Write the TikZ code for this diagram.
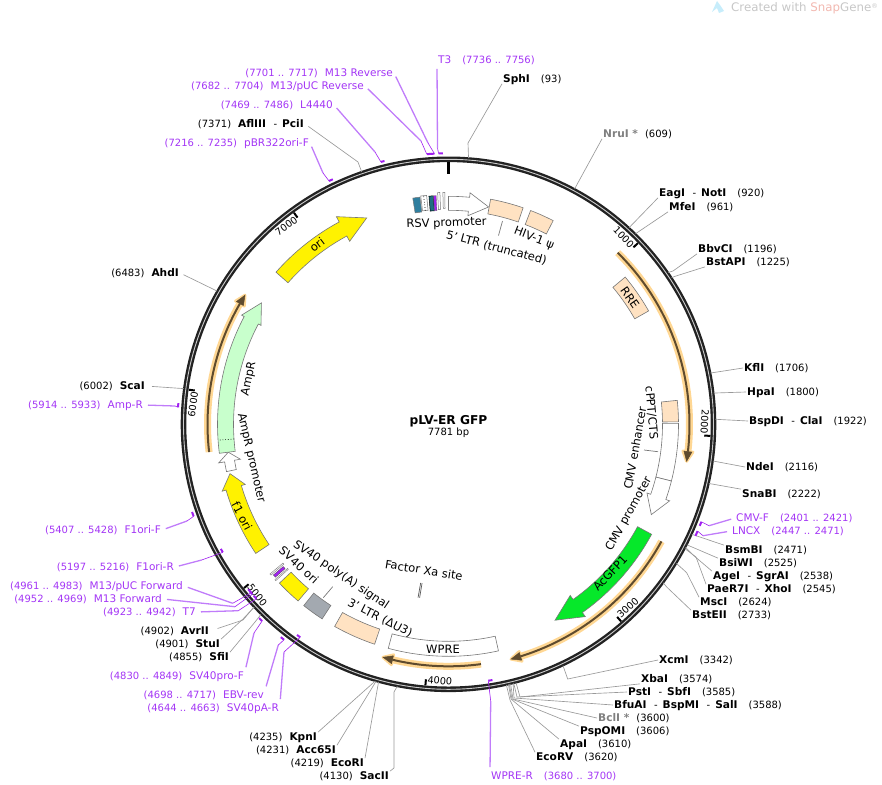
\documentclass[tikz,border=0pt]{standalone}
\usepackage{fontspec}
\setmainfont{DejaVu Sans}
\definecolor{prim}{HTML}{A335F5}
\definecolor{primlight}{HTML}{C07CFA}
\definecolor{primdark}{HTML}{A020F0}
\definecolor{peach}{HTML}{FFE2C2}
\definecolor{edgegray}{HTML}{777777}
\definecolor{leadgray}{HTML}{999999}
\definecolor{ringdark}{HTML}{222222}
\definecolor{glowc}{HTML}{FFD793}
\definecolor{corec}{HTML}{5F4B2E}
\definecolor{paleg}{HTML}{C8FFCC}
\definecolor{grayfeat}{HTML}{A3A9B0}
\definecolor{teal1}{HTML}{2F7F9F}
\definecolor{teal2}{HTML}{1F6F7F}
\definecolor{gfpgreen}{HTML}{06E82A}
\tikzset{
  declare function={rx(\bb,\rr)=448.5+\rr*sin(0.046267*\bb); ry(\bb,\rr)=424.3-\rr*cos(0.046267*\bb);},
  lab/.style={inner sep=1pt,text height=7.3pt,text depth=0pt,font=\fontsize{10}{12}\selectfont},
  plab/.style={lab,text=prim},
  feat/.style={inner sep=0pt,font=\fontsize{11.5}{13}\selectfont},
  featline/.style={draw=edgegray,line width=0.7pt},
  leadline/.style={draw=leadgray,line width=0.65pt},
  primthin/.style={draw=primdark,line width=0.6pt},
  primthick/.style={draw=primlight,line width=1.3pt,shorten <=4pt},
  primtick/.style={draw=primdark,line width=2pt},
  ticklab/.style={inner sep=1.5pt,text height=7.3pt,text depth=0pt,font=\fontsize{9.7}{12}\selectfont},
  glow/.style={draw=glowc,line width=7pt},
  glowhead/.style={draw=glowc,fill=glowc,line width=3pt,line join=round},
  core/.style={draw=corec,line width=2pt},
  corehead/.style={draw=corec,fill=corec,line width=0.5pt},
}
% band between bp1 and bp2, radii r1 and r2
\newcommand\bandbox[5]{\draw[#1] plot[domain=#2:#3,samples=30] ({rx(\x,#4)},{ry(\x,#4)}) -- plot[domain=#3:#2,samples=30] ({rx(\x,#5)},{ry(\x,#5)}) -- cycle;}
% arrow: style, tail, base, tip, centre radius, half width, head half width
\newcommand\arrowband[7]{\draw[#1] plot[domain=#2:#3,samples=30] ({rx(\x,#5+#6)},{ry(\x,#5+#6)}) -- ({rx(#3,#5+#7)},{ry(#3,#5+#7)}) -- ({rx(#4,#5)},{ry(#4,#5)}) -- ({rx(#3,#5-#7)},{ry(#3,#5-#7)}) -- plot[domain=#3:#2,samples=30] ({rx(\x,#5-#6)},{ry(\x,#5-#6)}) -- cycle;}
% tan highlighted arrow: tail, base, tip, radius
\newcommand\glowarr[4]{%
  \draw[glow] plot[domain=#1:#2,samples=30] ({rx(\x,#4)},{ry(\x,#4)});
  \draw[glowhead] ({rx(#2,#4+5)},{ry(#2,#4+5)}) -- ({rx(#3,#4)},{ry(#3,#4)}) -- ({rx(#2,#4-5)},{ry(#2,#4-5)}) -- cycle;
  \draw[core] plot[domain=#1:#2,samples=30] ({rx(\x,#4)},{ry(\x,#4)});
  \draw[corehead] ({rx(#2,#4+4)},{ry(#2,#4+4)}) -- ({rx(#3,#4)},{ry(#3,#4)}) -- ({rx(#2,#4-4)},{ry(#2,#4-4)}) -- cycle;}
% site label: [leader options] id, anchor, position, text, bp, via path, target anchor
\newcommand\sitelabel[8][]{%
  \node[lab,anchor=#3] (#2) at (#4) {#5};
  \coordinate (#2r) at ({rx(#6,267)},{ry(#6,267)});
  \draw[leadline,#1] (#2r) #7 -- (#2.#8);}
% primer: id, anchor, position, text, foot bp, other bp, radius, elbow, target anchor
\newcommand\primerlabel[9]{%
  \node[plab,anchor=#2] (#1) at (#3) {#4};
  \coordinate (#1f) at ({rx(#5,#7)},{ry(#5,#7)});
  \coordinate (#1e) at (#8);
  \draw[primtick] plot[domain=#5:#6,samples=4] ({rx(\x,#7)},{ry(\x,#7)});
  \draw[primthin] (#1e) -- (#1f);
  \draw[primthick] (#1.#9) -- (#1e);}
% scale tick: bp, text, rotation, anchor
\newcommand\ringtick[4]{%
  \coordinate (tk#2a) at ({rx(#1,262)},{ry(#1,262)});
  \coordinate (tk#2b) at ({rx(#1,256)},{ry(#1,256)});
  \draw[draw=black,line width=2pt] (tk#2a) -- (tk#2b);
  \node[ticklab,rotate=#3,anchor=#4] (tk#2) at ({rx(#1,256)},{ry(#1,256)}) {#2};}
\newcommand\gp{\hspace{11pt}}
\newcommand\gl{\hspace{7pt}}
\newcommand\nb[1]{{\fontsize{10.6}{12}\selectfont\bfseries #1}}
\newcommand\gb[1]{\textcolor{black!50}{\nb{#1}}}
\newcommand\pn[1]{{\fontsize{10.5}{12}\selectfont #1}}
\newcommand\dsh{\hspace{7.5pt}-\hspace{5pt}}
\begin{document}
\begin{tikzpicture}[x=1pt,y=-1pt]
\useasboundingbox (0,0) rectangle (882,784);

% watermark
\fill[fill=cyan!22] (712,12) -- (717,1) -- (720,5) -- (724,11) -- (719,13) -- (717,8) -- cycle;
\node[anchor=west,inner sep=0pt,font=\fontsize{11.8}{14}\selectfont,text=black!22] (wm) at (731,8) {Created with \textcolor[HTML]{F2B8B0}{Snap}Gene\raisebox{3pt}{\fontsize{6.5}{8}\selectfont ®}};

% ring
\coordinate (ctr) at (448.5,424.3);
\draw[draw=ringdark,line width=5.6pt] (ctr) circle[radius=265];
\draw[draw=white!80!black,line width=0.9pt] (ctr) circle[radius=265];

% zero tick
\coordinate (zeroa) at ({rx(0,262)},{ry(0,262)});
\coordinate (zerob) at ({rx(0,250)},{ry(0,250)});
\draw[draw=black,line width=3.2pt] (zeroa) -- (zerob);

% scale ticks
\ringtick{1000}{1000}{-46.3}{east}
\ringtick{2000}{2000}{-92.5}{east}
\ringtick{3000}{3000}{41.2}{west}
\ringtick{4000}{4000}{-5}{west}
\ringtick{5000}{5000}{-51.3}{west}
\ringtick{6000}{6000}{82.4}{east}
\ringtick{7000}{7000}{36.1}{east}

% small features left of RSV promoter
\bandbox{draw=edgegray,fill=teal1,line width=0.5pt}{-194}{-155}{214}{229}
\bandbox{draw=edgegray,fill=white,line width=0.5pt}{-150}{-118}{215}{230}
\draw[draw=black,line width=0.7pt,dotted] ({rx(-134,215)},{ry(-134,215)}) -- ({rx(-134,230)},{ry(-134,230)});
\bandbox{draw=black,fill=teal2,line width=0.5pt}{-106}{-82}{214}{229}
\bandbox{draw=black!60,fill=primdark,line width=0.3pt}{-81}{-67}{214}{229}
\bandbox{draw=edgegray,fill=white,line width=0.5pt}{-58}{-46}{215}{232}
\bandbox{draw=edgegray,fill=white,line width=0.5pt}{-30}{-20}{216}{232}

% features
\arrowband{draw=edgegray,fill=white,line width=0.6pt}{0}{115}{226}{221}{7}{11.5}
\bandbox{draw=edgegray,fill=peach,line width=0.6pt}{229}{411}{214}{229}
\bandbox{draw=edgegray,fill=peach,line width=0.6pt}{454}{588}{214}{229}
\bandbox{draw=edgegray,fill=peach,line width=0.6pt}{1085}{1307}{214}{230}
\bandbox{draw=edgegray,fill=peach,line width=0.6pt}{1816}{1932}{214}{230}
\bandbox{draw=edgegray,fill=white,line width=0.6pt}{1940}{2254}{214}{230}
\arrowband{draw=edgegray,fill=white,line width=0.6pt}{2254}{2358}{2464}{222}{8}{12}
\arrowband{draw=edgegray,fill=gfpgreen,line width=0.6pt}{2560}{3125}{3274}{223}{8}{13}
\bandbox{draw=edgegray,fill=white,line width=0.6pt}{3622}{4216}{217}{232}
\bandbox{draw=edgegray,fill=peach,line width=0.6pt}{4292}{4526}{216}{232}
\bandbox{draw=edgegray,fill=grayfeat,line width=0.6pt}{4604}{4725}{216}{232}
\bandbox{draw=edgegray,fill=yellow,line width=0.6pt}{4764}{4902}{216}{232}
\bandbox{draw=edgegray,fill=white,line width=0.4pt}{4925}{4932}{216}{233}
\bandbox{draw=black!70,fill=primdark,line width=0.3pt}{4940}{4956}{218}{231}
\bandbox{draw=edgegray,fill=white,line width=0.4pt}{4964}{4972}{216}{233}
\arrowband{draw=edgegray,fill=yellow,line width=0.6pt}{5105}{5480}{5561}{224}{8}{12}
\arrowband{draw=edgegray,fill=white,line width=0.6pt}{5576}{5630}{5680}{222}{5}{11}
\arrowband{draw=edgegray,fill=paleg,line width=0.6pt}{5680}{6437}{6549}{223}{8}{11}
\coordinate (ampa) at ({rx(5751,215)},{ry(5751,215)});
\coordinate (ampb) at ({rx(5751,231)},{ry(5751,231)});
\draw[draw=black,line width=0.7pt,dotted] (ampa) -- (ampb);
\arrowband{draw=edgegray,fill=yellow,line width=0.6pt}{6731}{7168}{7314}{222}{8}{14}

% Factor Xa site
\coordinate (xaa) at ({rx(4095,161)},{ry(4095,161)});
\coordinate (xab) at ({rx(4095,176)},{ry(4095,176)});
\coordinate (xac) at ({rx(4106,161)},{ry(4106,161)});
\coordinate (xad) at ({rx(4106,176)},{ry(4106,176)});
\draw[draw=black!65,line width=0.7pt] (xaa) -- (xab) (xac) -- (xad);

% highlighted arrows
\glowarr{964}{2086}{2136}{241}
\glowarr{2568}{3518}{3568}{243}
\glowarr{3724}{4180}{4230}{242}
\glowarr{5693}{6486}{6536}{241}

% feature labels
\node[feat,rotate=2] (lrsv) at (446.5,223.5) {RSV promoter};
\node[feat,rotate=-15] (lltr) at (496.5,248) {5' LTR (truncated)};
\node[feat,rotate=-21] (lhiv) at (534,238.5) {HIV-1 ψ};
\node[feat,rotate=-55] (lrre) at (630,298) {RRE};
\node[feat,rotate=-85] (lcppt) at (651.5,413) {cPPT/CTS};
\node[feat,rotate=80] (lenh) at (635,448) {CMV enhancer};
\node[feat,rotate=61] (lprom) at (629,514) {CMV promoter};
\node[feat,rotate=47] (lgfp) at (610,573) {AcGFP1};
\node[feat] (lwpre) at (443,649) {WPRE};
\node[feat,rotate=-27] (l3ltr) at (380,618) {3' LTR (ΔU3)};
\node[feat,rotate=-34] (lpa) at (341,575) {SV40 poly(A) signal};
\node[feat,rotate=-42] (lsvo) at (299,565) {SV40 ori};
\node[feat,rotate=-9] (lxa) at (424,570) {Factor Xa site};
\node[feat,rotate=78] (lamp) at (249,379) {AmpR};
\node[feat,rotate=-77] (lampp) at (251,458) {AmpR promoter};
\node[feat,rotate=-62] (lf1) at (242,516) {f1 ori};
\node[feat,rotate=37] (lori) at (317,245) {ori};

% feature to label ties
\coordinate (ltrtie) at (502.5,221);
\draw[featline] (ltrtie) -- ++(-4,14.5);
\coordinate (enha) at (658,451.7);
\draw[featline] (enha) -- ++(-14,-1.7);
\coordinate (paa) at (323.3,597.7);
\draw[featline] (paa) -- ++(9.4,-11);

% centre
\node[inner sep=0pt,font=\bfseries\fontsize{12.2}{14}\selectfont] (title) at (448.5,421) {pLV-ER GFP};
\node[inner sep=0pt,font=\fontsize{10}{12}\selectfont] (size) at (448.5,433) {7781 bp};

% restriction sites
\sitelabel{sphi}{west}{502,79}{\nb{SphI}\gp(93)}{93}{-- (468,143)}{south west}
\sitelabel{nrui}{west}{602,134}{\gb{NruI *}\gl(609)}{609}{}{south west}
\sitelabel{eagi}{west}{658,193}{\nb{EagI}\dsh\nb{NotI}\gp(920)}{920}{}{south west}
\sitelabel{mfei}{west}{668,207}{\nb{MfeI}\gp(961)}{961}{}{south west}
\sitelabel{bbvci}{west}{697,249}{\nb{BbvCI}\gp(1196)}{1196}{-- (673,271)}{south west}
\sitelabel{bstapi}{west}{705,262}{\nb{BstAPI}\gp(1225)}{1225}{-- (676,276)}{south west}
\sitelabel{kfli}{west}{743,368}{\nb{KflI}\gp(1706)}{1706}{}{west}
\sitelabel{hpai}{west}{746,392}{\nb{HpaI}\gp(1800)}{1800}{}{west}
\sitelabel{bspdi}{west}{748,421}{\nb{BspDI}\dsh\nb{ClaI}\gp(1922)}{1922}{}{west}
\sitelabel{ndei}{west}{745,467}{\nb{NdeI}\gp(2116)}{2116}{}{west}
\sitelabel{snabi}{west}{741,494}{\nb{SnaBI}\gp(2222)}{2222}{}{north west}
\sitelabel{bsmbi}{west}{724,550}{\nb{BsmBI}\gp(2471)}{2471}{}{north west}
\sitelabel{bsiwi}{west}{718,563}{\nb{BsiWI}\gp(2525)}{2525}{}{north west}
\sitelabel{agei}{west}{712,576}{\nb{AgeI}\dsh\nb{SgrAI}\gp(2538)}{2538}{-- (693,555)}{north west}
\sitelabel{paer}{west}{706,589}{\nb{PaeR7I}\dsh\nb{XhoI}\gp(2545)}{2545}{-- (696,557)}{north west}
\sitelabel{msci}{west}{699,602}{\nb{MscI}\gp(2624)}{2624}{-- (686.7,572.7)}{north west}
\sitelabel{bsteii}{west}{691,615}{\nb{BstEII}\gp(2733)}{2733}{-- (666.7,587)}{north west}
\sitelabel{xcmi}{west}{658,660}{\nb{XcmI}\gp(3342)}{3342}{-- (567.7,679)}{west}
\sitelabel{xbai}{west}{640,679}{\nb{XbaI}\gp(3574)}{3574}{-- (520,697)}{south west}
\sitelabel{psti}{west}{627,692}{\nb{PstI}\dsh\nb{SbfI}\gp(3585)}{3585}{-- (517,697)}{west}
\sitelabel{bfuai}{west}{613,705}{\nb{BfuAI}\dsh\nb{BspMI}\dsh\nb{SalI}\gp(3588)}{3588}{-- (514,698)}{west}
\sitelabel{bcli}{west}{597,718}{\gb{BclI *}\gl(3600)}{3600}{-- (513,699)}{west}
\sitelabel{pspomi}{west}{579,731}{\nb{PspOMI}\gp(3606)}{3606}{-- (512,699)}{north west}
\sitelabel{apai}{west}{559,744}{\nb{ApaI}\gp(3610)}{3610}{-- (511,699)}{north west}
\sitelabel{ecorv}{west}{535,757}{\nb{EcoRV}\gp(3620)}{3620}{-- (510,700)}{north west}
\sitelabel{sacii}{east}{390,776}{(4130)\gl\nb{SacII}}{4130}{-- (394,692) -- (394,768)}{north east}
\sitelabel{ecori}{east}{365,763}{(4219)\gl\nb{EcoRI}}{4219}{}{north east}
\sitelabel{acc}{east}{337,750}{(4231)\gl\nb{Acc65I}}{4231}{}{north east}
\sitelabel{kpni}{east}{318,737}{(4235)\gl\nb{KpnI}}{4235}{}{north east}
\sitelabel{sfii}{east}{230,657}{(4855)\gl\nb{SfiI}}{4855}{-- (255,622)}{north east}
\sitelabel{stui}{east}{221,644}{(4901)\gl\nb{StuI}}{4901}{-- (243,619)}{north east}
\sitelabel[shorten >=8pt]{avrii}{east}{210,631}{(4902)\gl\nb{AvrII}}{4902}{-- (243,620)}{east}
\sitelabel[shorten >=6pt]{scai}{east}{146,386}{(6002)\gl\nb{ScaI}}{6002}{}{east}
\sitelabel[shorten >=4pt]{ahdi}{east}{180,273}{(6483)\gl\nb{AhdI}}{6483}{}{east}
\sitelabel[shorten >=4pt]{afl}{east}{305,124}{(7371)\gl\nb{AflIII}\dsh\nb{PciI}}{7371}{-- (358,162)}{east}

% primers
\primerlabel{pthree}{west}{437,60}{\pn{T3}\gp(7736 .. 7756)}{7736}{7756}{271}{437.5,148}{south west}
\primerlabel{pmrev}{east}{394,73}{(7701 .. 7717)\gl\pn{M13 Reverse}}{7717}{7701}{271}{428,143}{east}
\primerlabel{ppuc}{east}{365,86}{(7682 .. 7704)\gl\pn{M13/pUC Reverse}}{7682}{7704}{271}{421,141}{east}
\primerlabel{pl}{east}{334,105}{(7469 .. 7486)\gl\pn{L4440}}{7469}{7486}{271}{375,152}{east}
\primerlabel{ppbr}{east}{310,143}{(7216 .. 7235)\gl\pn{pBR322ori-F}}{7216}{7235}{271}{323,173}{east}
\primerlabel{pampr}{east}{144,405}{(5914 .. 5933)\gl\pn{Amp-R}}{5914}{5933}{271}{175,406}{east}
\primerlabel{pfff}{east}{162,530}{(5407 .. 5428)\gl\pn{F1ori-F}}{5407}{5428}{271}{187,521}{east}
\primerlabel{pffr}{east}{175,567}{(5197 .. 5216)\gl\pn{F1ori-R}}{5197}{5216}{259.5}{201.7,560}{east}
\primerlabel{ppucf}{east}{184,586}{(4961 .. 4983)\gl\pn{M13/pUC Forward}}{4961}{4983}{259.5}{232.7,603.3}{east}
\primerlabel{pmf}{east}{163,599}{(4952 .. 4969)\gl\pn{M13 Forward}}{4952}{4969}{259.5}{235,606.7}{east}
\primerlabel{psev}{east}{197,612}{(4923 .. 4942)\gl\pn{T7}}{4923}{4942}{259.5}{238.3,610.7}{east}
\primerlabel{psvf}{east}{245,676}{(4830 .. 4849)\gl\pn{SV40pro-F}}{4830}{4849}{271}{254,633}{north east}
\primerlabel{pebv}{east}{265,695}{(4698 .. 4717)\gl\pn{EBV-rev}}{4698}{4717}{271}{278.3,645}{north east}
\primerlabel{psvr}{east}{280,708}{(4644 .. 4663)\gl\pn{SV40pA-R}}{4644}{4663}{259.5}{284,652}{north east}
\primerlabel{pwpre}{west}{490,776}{\pn{WPRE-R}\gp(3680 .. 3700)}{3700}{3680}{259.5}{490.7,701}{north west}
\primerlabel{pcmv}{west}{735,518}{\pn{CMV-F}\gp(2401 .. 2421)}{2401}{2421}{271}{709,525.7}{west}
\primerlabel{plncx}{west}{731,531}{\pn{LNCX}\gp(2447 .. 2471)}{2447}{2471}{271}{703,535.7}{west}
\end{tikzpicture}
\end{document}
